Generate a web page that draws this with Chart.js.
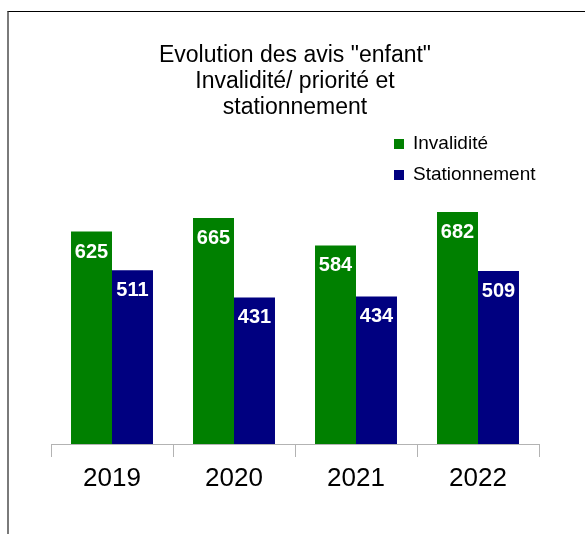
<!DOCTYPE html>
<html>
<head>
<meta charset="utf-8">
<script src="https://cdn.jsdelivr.net/npm/chart.js@4/dist/chart.umd.min.js"></script>
<style>
  html, body { margin: 0; padding: 0; background: #fff; overflow: hidden; }
  #frame { position: absolute; left: 7px; top: 11px; width: 700px; height: 700px;
           border-top: 1px solid #000; border-left: 2px solid #7a7a7a; }
  #c { position: absolute; left: 0; top: 0; }
</style>
</head>
<body>
<div id="frame"></div>
<canvas id="c" width="585" height="534"></canvas>
<script>
const categories = ["2019", "2020", "2021", "2022"];
const invalidite = [625, 665, 584, 682];
const stationnement = [511, 431, 434, 509];
const seriesNames = ["Invalidité", "Stationnement"];
const titleLines = ['Evolution des avis "enfant"', 'Invalidité/ priorité et', 'stationnement'];

const FONT = "'Liberation Sans', Arial, sans-serif";

const valueLabels = {
  id: 'valueLabels',
  afterDatasetsDraw(chart) {
    const ctx = chart.ctx;
    ctx.save();
    ctx.font = "bold 20px " + FONT;
    ctx.fillStyle = '#fff';
    ctx.textAlign = 'center';
    ctx.textBaseline = 'alphabetic';
    chart.data.datasets.forEach((ds, di) => {
      chart.getDatasetMeta(di).data.forEach((bar, i) => {
        ctx.fillText(String(ds.data[i]), bar.x, bar.y + 26);
      });
    });
    ctx.restore();
  }
};

const sideLegend = {
  id: 'sideLegend',
  afterDraw(chart) {
    const ctx = chart.ctx;
    ctx.save();
    ctx.font = "19px " + FONT;
    ctx.textAlign = 'left';
    ctx.textBaseline = 'middle';
    const x0 = 394, y0 = 143.5, step = 31.5;
    chart.data.datasets.forEach((ds, i) => {
      const cy = y0 + i * step;
      ctx.fillStyle = ds.backgroundColor;
      ctx.fillRect(x0, Math.round(cy - 5), 10, 10);
      ctx.fillStyle = '#000';
      ctx.fillText(ds.label, 413, cy);
    });
    ctx.restore();
  }
};

new Chart(document.getElementById('c'), {
  type: 'bar',
  data: {
    labels: categories,
    datasets: [
      { label: seriesNames[0], data: invalidite, backgroundColor: '#008000', borderWidth: 0 },
      { label: seriesNames[1], data: stationnement, backgroundColor: '#000080', borderWidth: 0 }
    ]
  },
  options: {
    responsive: false,
    animation: false,
    events: [],
    layout: { padding: { left: 51, right: 46, top: 0, bottom: 0 } },
    datasets: { bar: { barPercentage: 1.0, categoryPercentage: 0.672 } },
    plugins: {
      legend: { display: false },
      tooltip: { enabled: false },
      title: {
        display: true,
        text: titleLines,
        color: '#000',
        font: { family: FONT, size: 23, weight: 'normal', lineHeight: 26 / 23 },
        padding: { top: 43, bottom: 17 }
      }
    },
    scales: {
      x: {
        grid: { drawOnChartArea: false, drawTicks: true, tickLength: 13, color: '#b3b3b3', offset: true },
        border: { display: true, color: '#b3b3b3', width: 1 },
        ticks: { color: '#000', padding: 6, font: { family: FONT, size: 26, lineHeight: 1.2 } },
        afterFit(scale) { scale.height = 90; }
      },
      y: {
        display: false,
        min: 0,
        max: 900
      }
    }
  },
  plugins: [valueLabels, sideLegend]
});
</script>
</body>
</html>
